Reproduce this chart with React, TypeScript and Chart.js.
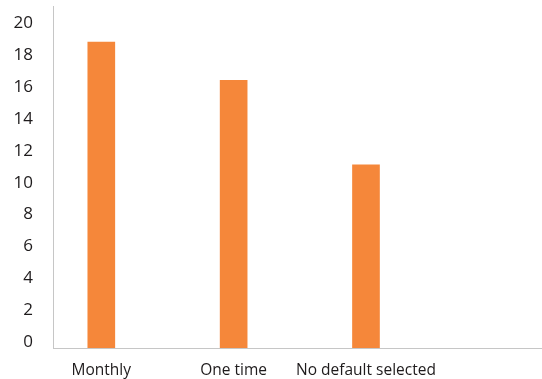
import { useEffect, useRef } from "react";
import { Chart, registerables } from "chart.js";

Chart.register(...registerables);

const categories = ["Monthly", "One time", "No default selected"];
const values = [19.2, 16.8, 11.5];
const yTicks = [0, 2, 4, 6, 8, 10, 12, 14, 16, 18, 20];

const BAR_COLOR = "#F5873A";
const AXIS_COLOR = "#c6c6c6";
const TEXT_COLOR = "#1e1b1c";
const FONT_FAMILY = "'Open Sans', 'Liberation Sans', sans-serif";

export default function App() {
  const ref = useRef<HTMLCanvasElement>(null);

  useEffect(() => {
    document.body.style.margin = "0";
    const chart = new Chart(ref.current!, {
      type: "bar",
      data: {
        datasets: [
          {
            data: values.map((v, i) => ({ x: i, y: v })),
            backgroundColor: BAR_COLOR,
            borderWidth: 0,
            barThickness: 27,
          },
        ],
      },
      options: {
        animation: false,
        responsive: false,
        maintainAspectRatio: false,
        layout: { padding: { left: 13, top: 6, right: 0, bottom: 0 } },
        plugins: {
          legend: { display: false },
          tooltip: { enabled: false },
        },
        scales: {
          x: {
            type: "linear",
            offset: false,
            min: -0.365,
            max: 3.33,
            grid: { display: false, drawTicks: false },
            border: { display: true, color: AXIS_COLOR, width: 1 },
            afterBuildTicks: (scale: any) => {
              scale.ticks = categories.map((_, i) => ({ value: i }));
            },
            afterFit: (scale: any) => {
              scale.height = 31;
              scale.paddingLeft = 0;
              scale.paddingRight = 0;
            },
            ticks: {
              autoSkip: false,
              maxRotation: 0,
              padding: 13,
              color: TEXT_COLOR,
              font: { family: FONT_FAMILY, size: 15.5 },
              callback: (v: any) => categories[v as number] ?? "",
            },
          },
          y: {
            min: 0,
            max: 21.47,
            grid: { display: false, drawTicks: false },
            border: { display: true, color: AXIS_COLOR, width: 1 },
            afterBuildTicks: (scale: any) => {
              scale.ticks = yTicks.map((v) => ({ value: v }));
            },
            afterFit: (scale: any) => {
              scale.width = 40;
              scale.paddingTop = 0;
              scale.paddingBottom = 0;
            },
            ticks: {
              padding: 20,
              labelOffset: -6,
              color: TEXT_COLOR,
              font: { family: FONT_FAMILY, size: 17 },
              callback: (v: any) => String(v),
            },
          },
        },
      },
    });
    return () => chart.destroy();
  }, []);

  return (
    <canvas
      ref={ref}
      width={542}
      height={379}
      style={{ display: "block", width: 542, height: 379 }}
    />
  );
}
